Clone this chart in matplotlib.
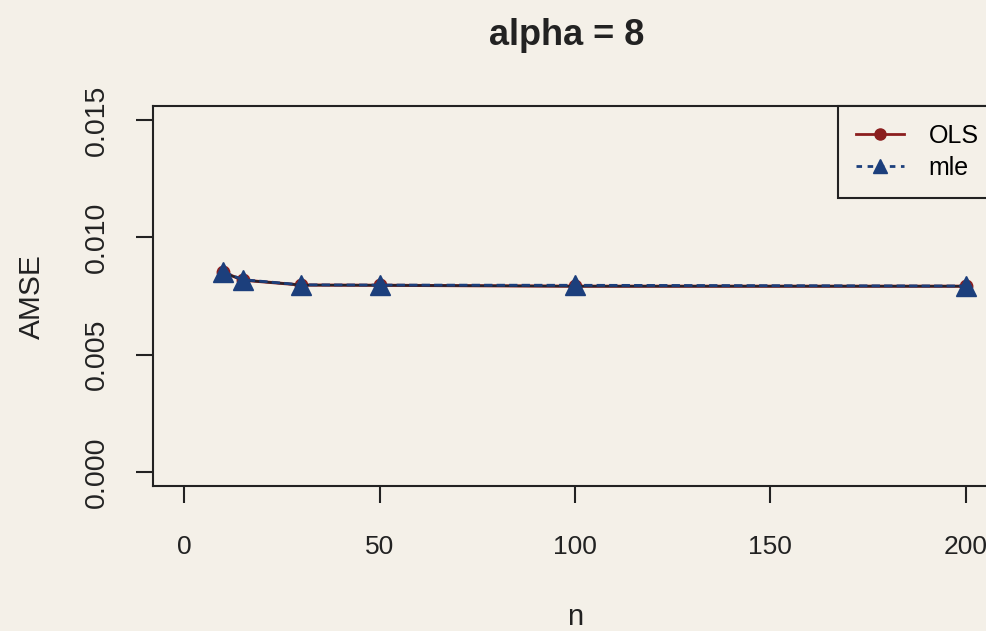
import matplotlib
matplotlib.use("Agg")
import matplotlib.pyplot as plt
from matplotlib.lines import Line2D

n = [10, 15, 30, 50, 100, 200]
ols = [0.00851, 0.00818, 0.00797, 0.00796, 0.00792, 0.00792]
mle = [0.00853, 0.00820, 0.00798, 0.00797, 0.00796, 0.00793]
xticks = [0, 50, 100, 150, 200]
yticks = [0.000, 0.005, 0.010, 0.015]
ytick_labels = ["0.000", "0.005", "0.010", "0.015"]

bg = "#f4f0e8"
ols_color = "#8b1e1e"
mle_color = "#1c3f7c"
ink = "#222222"

plt.rcParams['font.family'] = ['Liberation Sans', 'DejaVu Sans']

fig = plt.figure(figsize=(9.87, 6.31), dpi=100, facecolor=bg)
ax = fig.add_axes([0.155, 0.2298, 0.855, 0.602])
ax.set_facecolor(bg)

ax.plot(n, ols, color=ols_color, lw=2.2, marker='o', markersize=9, zorder=3)
ax.plot(n, mle, color=mle_color, lw=2, ls=(0, (3, 1.5)), marker='^', markersize=14, zorder=4)
ax.plot(n, ols, color="#23232e", lw=1.6, zorder=3.5)

ax.set_xlim(-8, 208)
ax.set_ylim(-0.0006, 0.0156)
ax.set_xticks(xticks)
ax.set_xticklabels([str(t) for t in xticks])
ax.set_yticks(yticks)
ax.set_yticklabels(ytick_labels)

for s in ax.spines.values():
    s.set_color(ink)
    s.set_linewidth(1.5)

ax.tick_params(axis='both', length=12, width=1.5, color=ink, labelcolor=ink)
ax.tick_params(axis='x', pad=23, labelsize=19)
ax.tick_params(axis='y', pad=19, labelrotation=90, labelsize=20.5)
for lab in ax.get_yticklabels():
    lab.set_va('center')

ax.set_title("alpha = 8", fontsize=26, fontweight='bold', pad=44, color=ink, x=0.49)
ax.set_ylabel("AMSE", fontsize=21.5, color=ink, va='center')
ax.yaxis.set_label_coords(-0.143, 0.5)
ax.set_xlabel("n", fontsize=21, color=ink, va='center')
ax.xaxis.set_label_coords(0.5, -0.345)

handles = [
    Line2D([0], [0], color=ols_color, lw=2, marker='o', markersize=8),
    Line2D([0], [0], color=mle_color, lw=2, ls=(0, (2, 2)), marker='^', markersize=10),
]
leg = ax.legend(handles, ["OLS", "mle"], loc='upper right', fontsize=18,
                frameon=True, fancybox=False, borderaxespad=0, handlelength=1.9,
                labelspacing=0.3, borderpad=0.72, handletextpad=1.0)
leg.get_frame().set_edgecolor(ink)
leg.get_frame().set_linewidth(1.5)
leg.get_frame().set_facecolor(bg)
leg.get_frame().set_alpha(1)

fig.savefig("out.png", dpi=100, facecolor=bg)
